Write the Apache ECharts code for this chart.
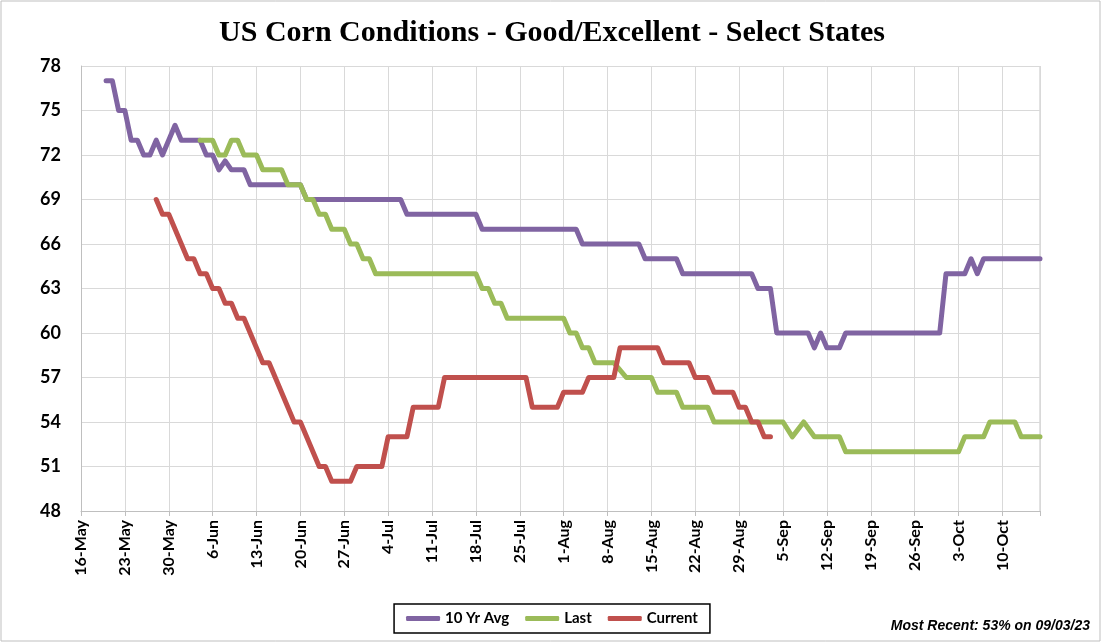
<!DOCTYPE html>
<html>
<head>
<meta charset="utf-8">
<title>US Corn Conditions</title>
<script src="https://cdn.jsdelivr.net/npm/echarts@6/dist/echarts.min.js"></script>
<style>
  html, body { margin: 0; padding: 0; background: #fff; }
  #chart { width: 1104px; height: 644px; }
</style>
</head>
<body>
<div id="chart"></div>
<script>
// x is days counted from 16-May, one label per week
const weekLabels = ["16-May", "23-May", "30-May", "6-Jun", "13-Jun", "20-Jun", "27-Jun", "4-Jul", "11-Jul", "18-Jul", "25-Jul", "1-Aug", "8-Aug", "15-Aug", "22-Aug", "29-Aug", "5-Sep", "12-Sep", "19-Sep", "26-Sep", "3-Oct", "10-Oct"];
const lastDay = 153;
const yMin = 48;
const yMax = 78;
const yStep = 3;

// [day, % good/excellent] where the line turns
const avg10Yr = [[4, 77], [5, 77], [6, 75], [7, 75], [8, 73], [9, 73], [10, 72], [11, 72], [12, 73], [13, 72], [15, 74], [16, 73], [19, 73], [20, 72], [21, 72], [22, 71], [23, 71.6], [24, 71], [26, 71], [27, 70], [35, 70], [36, 69], [51, 69], [52, 68], [63, 68], [64, 67], [79, 67], [80, 66], [89, 66], [90, 65], [95, 65], [96, 64], [107, 64], [108, 63], [110, 63], [111, 60], [116, 60], [117, 59], [118, 60], [119, 59], [121, 59], [122, 60], [137, 60], [138, 64], [141, 64], [142, 65], [143, 64], [144, 65], [153, 65]];
const lastYear = [[19, 73], [21, 73], [22, 72], [23, 72], [24, 73], [25, 73], [26, 72], [28, 72], [29, 71], [32, 71], [33, 70], [35, 70], [36, 69], [37, 69], [38, 68], [39, 68], [40, 67], [42, 67], [43, 66], [44, 66], [45, 65], [46, 65], [47, 64], [63, 64], [64, 63], [65, 63], [66, 62], [67, 62], [68, 61], [77, 61], [78, 60], [79, 60], [80, 59], [81, 59], [82, 58], [85, 58], [87, 57], [91, 57], [92, 56], [95, 56], [96, 55], [100, 55], [101, 54], [112, 54], [113.5, 53], [115.3, 54], [117, 53], [121, 53], [122, 52], [140, 52], [141, 53], [144, 53], [145, 54], [149, 54], [150, 53], [153, 53]];
const currentYear = [[12, 69], [13, 68], [14, 68], [17, 65], [18, 65], [19, 64], [20, 64], [21, 63], [22, 63], [23, 62], [24, 62], [25, 61], [26, 61], [29, 58], [30, 58], [34, 54], [35, 54], [38, 51], [39, 51], [40, 50], [43, 50], [44, 51], [48, 51], [49, 53], [52, 53], [53, 55], [57, 55], [58, 57], [71, 57], [72, 55], [76, 55], [77, 56], [80, 56], [81, 57], [85, 57], [86, 59], [92, 59], [93, 58], [97, 58], [98, 57], [100, 57], [101, 56], [104, 56], [105, 55], [106, 55], [107, 54], [108, 54], [109, 53], [110, 53]];

const seriesNames = ["10 Yr Avg", "Last", "Current"];
const seriesColors = ["#8064A2", "#9BBB59", "#C0504D"];

function lineSeries(name, data, color) {
  return {
    name: name,
    type: "line",
    data: data,
    symbol: "none",
    lineStyle: { color: color, width: 5, cap: "round", join: "round" },
    itemStyle: { color: color },
  };
}

var myChart = echarts.init(document.getElementById("chart"));
let option = {
  animation: false,
  backgroundColor: "#fff",
  title: {
    text: "US Corn Conditions - Good/Excellent - Select States",
    left: "center",
    top: 13,
    textStyle: {
      fontFamily: "Liberation Serif",
      fontWeight: "bold",
      fontSize: 30,
      color: "#000",
    },
  },
  legend: {
    data: seriesNames,
    left: "center",
    top: 604,
    icon: "roundRect",
    itemWidth: 34,
    itemHeight: 5,
    itemGap: 16,
    borderColor: "#000",
    borderWidth: 1.5,
    padding: [7, 12],
    textStyle: { fontFamily: "Lato", fontWeight: "bold", fontSize: 15, color: "#000" },
  },
  grid: { left: 81, right: 64, top: 66, bottom: 133 },
  xAxis: {
    type: "value",
    min: 0,
    max: lastDay,
    interval: 7,
    axisLine: { lineStyle: { color: "#bfbfbf" } },
    axisTick: { show: true, length: 5, lineStyle: { color: "#bfbfbf" } },
    splitLine: { show: true, lineStyle: { color: "#d9d9d9" } },
    axisLabel: {
      rotate: 90,
      margin: 9,
      padding: [8, 0, 0, 0], // nudges the rotated text a little right of its tick
      color: "#000",
      fontFamily: "Lato",
      fontWeight: "bold",
      fontSize: 16,
      formatter: function (v) {
        return v % 7 === 0 ? weekLabels[v / 7] : "";
      },
    },
  },
  yAxis: {
    type: "value",
    min: yMin,
    max: yMax,
    interval: yStep,
    axisLine: { show: true, lineStyle: { color: "#bfbfbf" } },
    axisTick: { show: false },
    splitLine: { lineStyle: { color: "#d9d9d9" } },
    axisLabel: {
      margin: 20,
      color: "#000",
      fontFamily: "Lato",
      fontWeight: "bold",
      fontSize: 18,
    },
  },
  graphic: [
    {
      // chart border
      type: "rect",
      shape: { x: 1, y: 1, width: 1099, height: 640 },
      style: { fill: "none", stroke: "#bfbfbf", lineWidth: 1 },
    },
    {
      // right border of plot area
      type: "rect",
      shape: { x: 1040, y: 66, width: 0, height: 445 },
      style: { fill: "none", stroke: "#d9d9d9", lineWidth: 1 },
    },
    {
      type: "text",
      style: {
        text: "Most Recent: 53% on 09/03/23",
        x: 1090,
        y: 626,
        textAlign: "right",
        textVerticalAlign: "middle",
        font: "italic bold 14px 'Liberation Sans'",
        fill: "#000",
      },
    },
  ],
  series: [
    lineSeries(seriesNames[0], avg10Yr, seriesColors[0]),
    lineSeries(seriesNames[1], lastYear, seriesColors[1]),
    lineSeries(seriesNames[2], currentYear, seriesColors[2]),
  ],
};
myChart.setOption(option);
</script>
</body>
</html>
